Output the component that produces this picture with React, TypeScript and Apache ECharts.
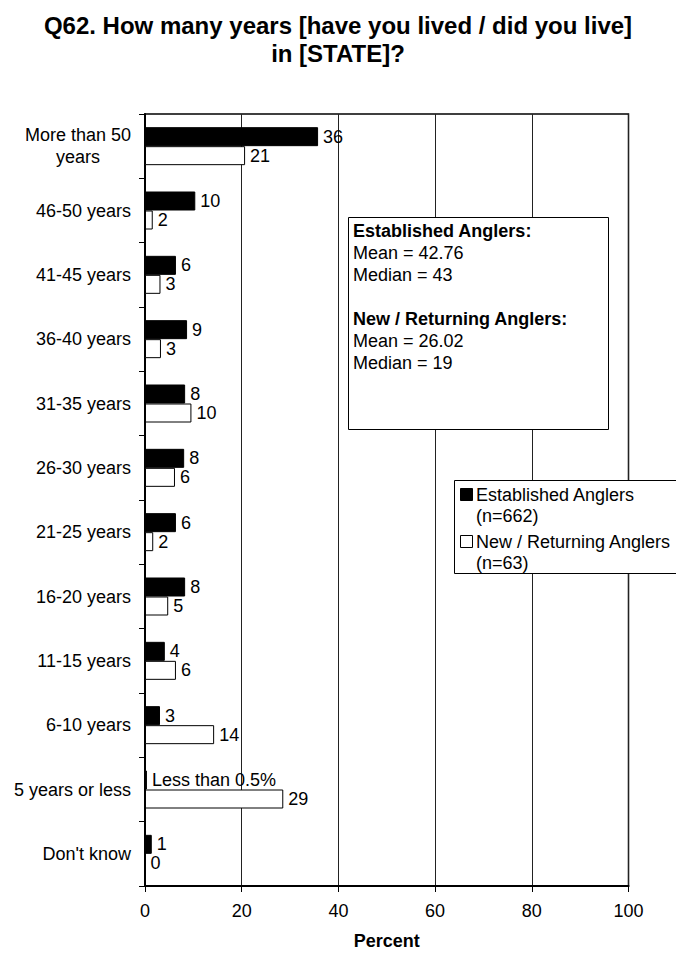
import React, { useEffect, useRef } from "react";
import * as echarts from "echarts";

const categories = [
  "More than 50\nyears",
  "46-50 years",
  "41-45 years",
  "36-40 years",
  "31-35 years",
  "26-30 years",
  "21-25 years",
  "16-20 years",
  "11-15 years",
  "6-10 years",
  "5 years or less",
  "Don't know",
];
const establishedValues = [35.8, 10.4, 6.4, 8.7, 8.3, 8.1, 6.4, 8.3, 4.1, 3.1, 0.4, 1.4];
const newReturningValues = [20.7, 1.6, 3.2, 3.3, 9.6, 6.2, 1.7, 4.8, 6.4, 14.3, 28.6, 0];
const xTicks = [0, 20, 40, 60, 80, 100];
const seriesNames = ["Established Anglers", "New / Returning Anglers"];
const seriesSizes = ["(n=662)", "(n=63)"];
const titleText = "Q62. How many years [have you lived / did you live]\nin [STATE]?";
const statsLines = [
  { text: "Established Anglers:", bold: true },
  { text: "Mean = 42.76", bold: false },
  { text: "Median = 43", bold: false },
  { text: "", bold: false },
  { text: "New / Returning Anglers:", bold: true },
  { text: "Mean = 26.02", bold: false },
  { text: "Median = 19", bold: false },
];

const FONT = 'Arial, "Liberation Sans", sans-serif';

function fmtLabel(v: number): string {
  if (v > 0 && v < 0.5) return "Less than 0.5%";
  return String(Math.round(v));
}

export default function App() {
  const ref = useRef<HTMLDivElement>(null);
  useEffect(() => {
    document.body.style.margin = "0";
    if (!ref.current) return;
    const chart = echarts.init(ref.current, null, { renderer: "svg" });

    const statsGraphics: any[] = [
      {
        type: "rect",
        shape: { x: 348.5, y: 217.5, width: 260, height: 212 },
        style: { fill: "#fff", stroke: "#000", lineWidth: 1 },
        z: 10,
      },
    ];
    statsLines.forEach((l, i) => {
      if (!l.text) return;
      statsGraphics.push({
        type: "text",
        x: 353,
        y: 231 + i * 22,
        z: 11,
        style: {
          text: l.text,
          font: `${l.bold ? "bold " : ""}18px ${FONT}`,
          fill: "#000",
          verticalAlign: "middle",
          align: "left",
        },
      });
    });

    const legendGraphics: any[] = [
      {
        type: "rect",
        shape: { x: 454.5, y: 480.5, width: 230, height: 93 },
        style: { fill: "#fff", stroke: "#000", lineWidth: 1 },
        z: 10,
      },
    ];
    const fills = ["#000", "#fff"];
    seriesNames.forEach((n, i) => {
      const y0 = 495 + i * 47;
      legendGraphics.push({
        type: "rect",
        shape: { x: 460.5, y: y0 - 6.5, width: 12, height: 12 },
        style: { fill: fills[i], stroke: "#000", lineWidth: 1 },
        z: 11,
      });
      legendGraphics.push({
        type: "text",
        x: 476,
        y: y0,
        z: 11,
        style: { text: n, font: `18px ${FONT}`, fill: "#000", verticalAlign: "middle" },
      });
      legendGraphics.push({
        type: "text",
        x: 476,
        y: y0 + 21,
        z: 11,
        style: { text: seriesSizes[i], font: `18px ${FONT}`, fill: "#000", verticalAlign: "middle" },
      });
    });

    chart.setOption({
      animation: false,
      backgroundColor: "#fff",
      title: {
        text: titleText,
        left: "center",
        top: 6,
        textStyle: {
          fontFamily: FONT,
          fontSize: 24,
          fontWeight: "bold",
          color: "#000",
          lineHeight: 28,
        },
      },
      grid: {
        left: 145,
        right: 47.5,
        top: 114,
        bottom: 68.3,
        show: true,
        borderColor: "#000",
        borderWidth: 1.5,
        backgroundColor: "transparent",
      },
      xAxis: {
        type: "value",
        min: 0,
        max: 100,
        interval: 20,
        name: "Percent",
        nameLocation: "middle",
        nameGap: 46,
        nameTextStyle: { fontFamily: FONT, fontSize: 18, fontWeight: "bold", color: "#000" },
        axisLine: { show: true, lineStyle: { color: "#000", width: 2 } },
        axisTick: { show: true, length: 6, lineStyle: { color: "#000" } },
        axisLabel: {
          fontFamily: FONT,
          fontSize: 18,
          color: "#000",
          margin: 16,
          formatter: (v: number) => (xTicks.includes(v) ? String(v) : ""),
        },
        splitLine: { show: true, lineStyle: { color: "#222", width: 1 } },
      },
      yAxis: {
        type: "category",
        data: categories,
        inverse: true,
        axisLine: { show: true, lineStyle: { color: "#000", width: 2 } },
        axisTick: { show: true, length: 6, lineStyle: { color: "#000" } },
        axisLabel: {
          fontFamily: FONT,
          fontSize: 18,
          color: "#000",
          margin: 14,
          formatter: (v: string) =>
            v.includes("\n")
              ? v
                  .split("\n")
                  .map((l) => `{c|${l}}`)
                  .join("\n")
              : v,
          rich: {
            c: { fontFamily: FONT, fontSize: 18, color: "#000", align: "center", lineHeight: 22 },
          },
        },
        splitLine: { show: false },
      },
      series: [
        {
          name: seriesNames[0],
          type: "bar",
          data: establishedValues,
          barWidth: 19,
          barGap: "0%",
          itemStyle: { color: "#000", borderColor: "#000", borderWidth: 1 },
          label: {
            show: true,
            position: "right",
            distance: 5,
            fontFamily: FONT,
            fontSize: 18,
            color: "#000",
            formatter: (p: any) => fmtLabel(p.value),
          },
        },
        {
          name: seriesNames[1],
          type: "bar",
          data: newReturningValues,
          barWidth: 19,
          barGap: "0%",
          itemStyle: { color: "#fff", borderColor: "#000", borderWidth: 1 },
          label: {
            show: true,
            position: "right",
            distance: 5,
            fontFamily: FONT,
            fontSize: 18,
            color: "#000",
            formatter: (p: any) => fmtLabel(p.value),
          },
        },
      ],
      graphic: [...statsGraphics, ...legendGraphics],
    });
    return () => chart.dispose();
  }, []);
  return <div ref={ref} style={{ width: 676, height: 955 }} />;
}
